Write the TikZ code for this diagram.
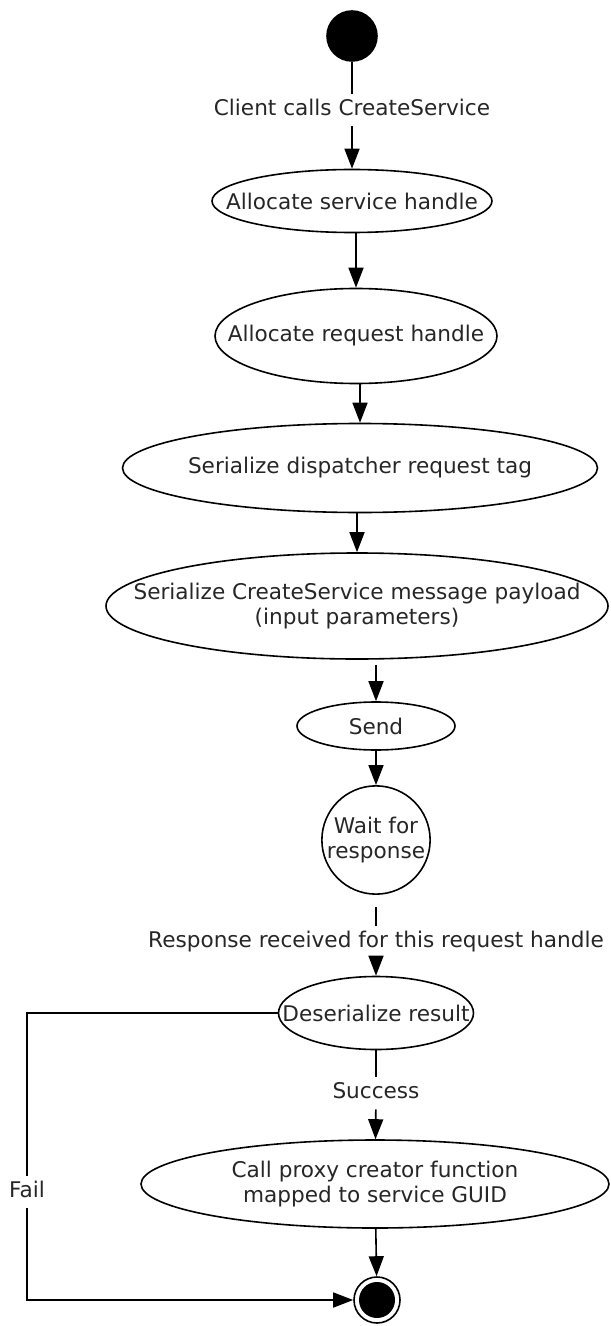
\documentclass[tikz,border=0pt]{standalone}
\usepackage{fontspec}
\setmainfont{DejaVu Sans}
\usetikzlibrary{shapes.geometric,arrows.meta}

\tikzset{
    act/.style={draw, ellipse, inner sep=-40pt, align=center},
    lbl/.style={inner sep=2.5pt, text height=8pt, text depth=2.5pt},
    flow/.style={-{Triangle[length=10pt,width=7.5pt]}}
}

\begin{document}
\begin{tikzpicture}[
        x = .5pt, y = -.5pt,
        line width = .8pt,
        font = \fontsize{10.8}{12.5}\selectfont,
        text = black!85
    ]
    \useasboundingbox (0,0) rectangle (610,1326);
    % states
    \node[draw, circle, fill=black, minimum size=25pt, inner sep=0pt] (start) at (352,36) {};
    \node[act, minimum width=140pt, minimum height=31.5pt] (svc) at (352,201) {Allocate service handle};
    \node[act, minimum width=141pt, minimum height=47.5pt] (req) at (356,336) {Allocate request handle};
    \node[act, minimum width=237.5pt, minimum height=44.5pt] (tag) at (360,468) {Serialize dispatcher request tag};
    \node[act, minimum width=251pt, minimum height=53pt] (payload) at (357,606) {Serialize CreateService message payload\\(input parameters)};
    \node[act, minimum width=79pt, minimum height=24pt] (send) at (376,726) {Send};
    \node[draw, circle, inner sep=0pt, align=center, minimum size=52.5pt] (wait) at (376,840) {Wait for\\response};
    \node[act, minimum width=97.5pt, minimum height=36.5pt] (deser) at (376,1013) {Deserialize result};
    \node[act, minimum width=234pt, minimum height=44pt] (proxy) at (375,1184) {Call proxy creator function\\mapped to service GUID};
    \node[draw, circle, minimum size=23pt, inner sep=0pt,
        path picture={\fill (path picture bounding box.center) circle (9pt);}] (stop) at (377,1300) {};
    % guards
    \node[lbl] (calls) at (352,110) {Client calls CreateService};
    \node[lbl] (rcvd) at (376,942) {Response received for this request handle};
    \node[lbl] (ok) at (376,1093) {Success};
    \node[lbl] (fail) at (27,1192) {Fail};
    % transitions
    \draw (start) -- (calls);
    \draw[flow] (calls) -- (svc);
    \draw[flow] (svc.south -| req.north) -- (req.north);
    \draw[flow] (req.south -| tag.north) -- (tag.north);
    \draw[flow] (tag.south -| payload.north) -- (payload.north);
    \draw[flow, shorten <=2.5pt] (payload.south -| send.north) -- (send.north);
    \draw[flow] (send) -- (wait);
    \draw[shorten <=6pt] (wait) -- (rcvd);
    \draw[flow] (rcvd) -- (deser);
    \draw (deser) -- (ok);
    \draw[flow] (ok) -- (proxy);
    \draw[flow] (proxy) -- (stop);
    \draw (deser.west) -| (fail);
    \draw[flow] (fail) |- (stop);
\end{tikzpicture}
\end{document}
